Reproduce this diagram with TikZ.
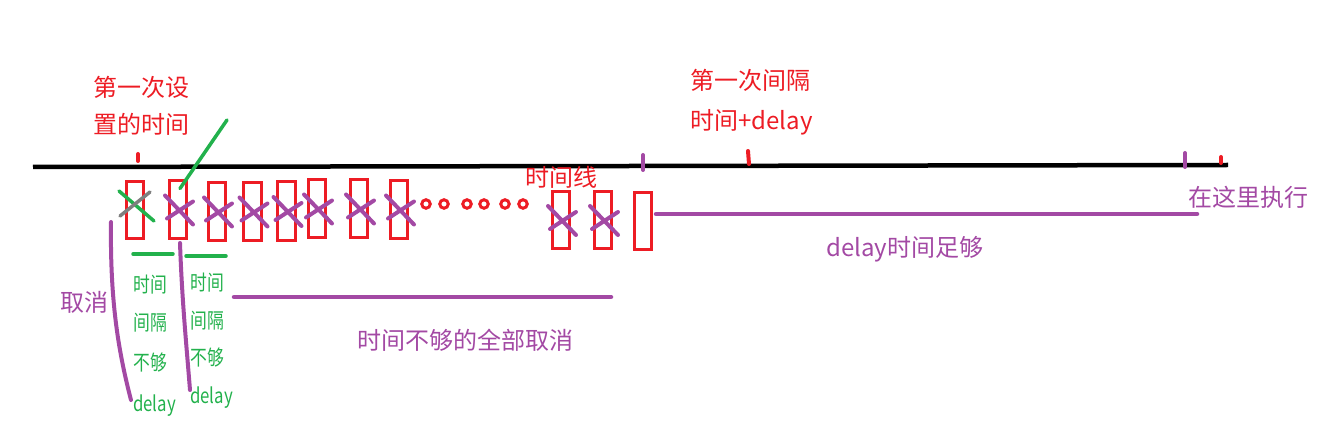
\documentclass[tikz,border=0pt]{standalone}
\usepackage{fontspec}
\setmainfont{Noto Sans CJK SC}
\definecolor{pred}{RGB}{237,28,36}
\definecolor{ppur}{RGB}{163,73,164}
\definecolor{pgrn}{RGB}{34,177,76}
\definecolor{pgry}{RGB}{127,127,127}
\newcommand{\narrowtxt}[1]{\scalebox{0.8}[1]{#1}}
\begin{document}
\begin{tikzpicture}[x=1pt,y=-1pt,
  box/.style={draw=pred,line width=3pt,minimum width=18pt,inner sep=0pt},
  redtxt/.style={text=pred,anchor=west,inner sep=0pt,font=\fontsize{24}{28}\selectfont},
  purtxt/.style={text=ppur,anchor=west,inner sep=0pt,font=\fontsize{24}{28}\selectfont},
  grntxt/.style={text=pgrn,anchor=west,inner sep=0pt,font=\fontsize{21}{24}\selectfont},
  purline/.style={draw=ppur,line width=4.5pt,line cap=round},
  xline/.style={draw=ppur,line width=4pt,line cap=round},
  tick/.style={line width=4pt,line cap=round},
  ring/.style={circle,draw=pred,line width=3pt,minimum size=8.5pt,inner sep=0pt}]
\useasboundingbox (0,0) rectangle (1342,446);
% timeline
\coordinate (tl0) at (33,167);
\coordinate (tl1) at (1228,165);
\draw[line width=4.5pt] (tl0) -- (tl1);
% ticks
\draw[tick,pred] (138,154) -- (138,161);
\draw[tick,pred] (748,151) -- (749,164);
\draw[tick,pred] (1221,157) -- (1221,163);
\draw[tick,ppur] (643,155) -- (643,170);
\draw[tick,ppur] (1185,153) -- (1185,167);
% texts
\node[redtxt] (t1a) at (93,87) {第一次设};
\node[redtxt] (t1b) at (93,124) {置的时间};
\node[redtxt] (t2a) at (690,80) {第一次间隔};
\node[redtxt] (t2b) at (690,122) {时间+delay};
\node[redtxt] (t3) at (525,177) {时间线};
\node[purtxt] (t4) at (1188,197) {在这里执行};
\node[purtxt] (t5) at (826,249) {delay时间足够};
\node[purtxt] (t6) at (357,340) {时间不够的全部取消};
\node[purtxt] (t7) at (60,302) {取消};
\node[grntxt] (g1) at (133,285) {\narrowtxt{时间}};
\node[grntxt] (g2) at (133,323) {\narrowtxt{间隔}};
\node[grntxt] (g3) at (133,363) {\narrowtxt{不够}};
\node[grntxt] (g4) at (133,406) {\narrowtxt{delay}};
\node[grntxt] (h1) at (190,283) {\narrowtxt{时间}};
\node[grntxt] (h2) at (190,321) {\narrowtxt{间隔}};
\node[grntxt] (h3) at (190,358) {\narrowtxt{不够}};
\node[grntxt] (h4) at (190,398) {\narrowtxt{delay}};
% boxes
\foreach \n/\xa/\ya/\xb/\yb in {1/125/180/145/240, 2/168/179/188/240, 3/207/181/227/242,
  4/242/181/263/242, 5/276/180/297/242, 6/307/178/327/239, 7/349/178/369/239,
  8/389/179/409/240, 9/551/190/571/250, 10/593/190/613/250, 11/633/191/653/251}{
  \node[box,minimum width={\xb-\xa-3},minimum height={\yb-\ya-3}] (b\n) at ({(\xa+\xb)/2},{(\ya+\yb)/2}) {};
}
% crosses
\foreach \n in {2,...,10}{
  \draw[xline] ([shift={(-13,-14)}]b\n.center) -- ([shift={(15,15)}]b\n.center);
  \draw[xline] ([shift={(-11,9)}]b\n.center) -- ([shift={(15,-8)}]b\n.center);
}
\draw[line width=3.5pt,line cap=round,pgrn] (119,191) -- (154,221);
\draw[line width=3.5pt,line cap=round,pgry] (120,216) -- (150,192);
% green diagonal
\draw[line width=3.5pt,line cap=round,pgrn] (b2.center) ++(2,-21) coordinate (gd0) (gd0) -- (227,120);
% dots
\foreach \i/\x in {1/426,2/444,3/467,4/484,5/505,6/523}{
  \node[ring] (d\i) at (\x,204) {};
}
% purple lines
\draw[purline] (b11.east) ++(3,-7) coordinate (pl0) (pl0) -- (1197,214);
\draw[purline] (234,297) -- (611,297);
% green underlines
\draw[line width=3.5pt,line cap=round,pgrn] (133,254) -- (173,254);
\draw[line width=3.5pt,line cap=round,pgrn] (186,256) -- (226,256);
% brace-like purple curves
\draw[purline,line width=4pt] (111,222) .. controls (110,300) and (118,350) .. (131,400);
\draw[purline,line width=4pt] (180,243) .. controls (182,300) and (186,340) .. (190,390);
\end{tikzpicture}
\end{document}
